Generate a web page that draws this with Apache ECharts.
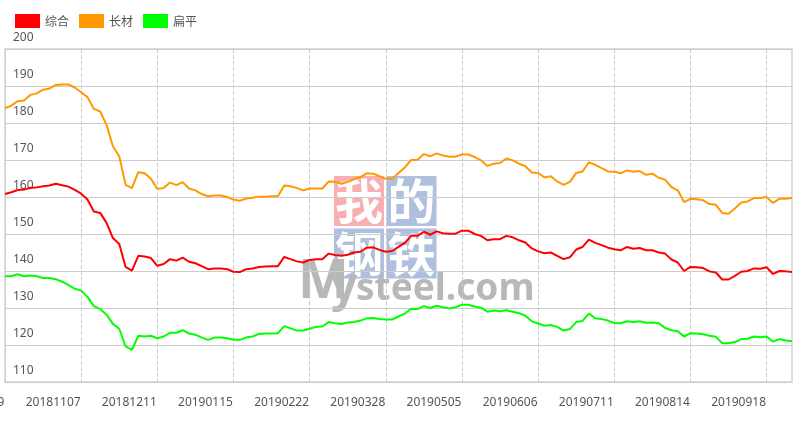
<!DOCTYPE html>
<html><head><meta charset="utf-8">
<style>html,body{margin:0;padding:0;background:#fff}#c{width:804px;height:421px}</style>
<script src="https://cdn.jsdelivr.net/npm/echarts@6/dist/echarts.min.js"></script>
</head><body><div id="c"></div>
<script>
const seriesNames = ['综合','长材','扁平'];
const tickLabels = ['20181009','20181107','20181211','20190115','20190222','20190328','20190505','20190606','20190711','20190814','20190918'];
const composite = [160.8,161.3,161.9,162,162.5,162.6,162.9,163.1,163.6,163.2,162.8,161.9,160.9,159.3,156.1,155.7,153,148.9,147.3,141.1,140.1,144.1,143.9,143.5,141.4,141.9,143.2,142.8,143.6,142.5,142.1,141.3,140.5,140.7,140.7,140.5,139.8,139.7,140.5,140.7,141.1,141.2,141.3,141.3,143.8,143.2,142.6,142.3,143,143.2,143.2,144.7,144.3,144.1,144.4,145,145.2,146.3,146.4,145.7,145.2,145.4,146.5,147.6,149.5,149.5,150.6,149.8,150.7,150.2,150.1,150.1,150.9,150.9,150,149.5,148.3,148.6,148.6,149.5,149.1,148.3,147.7,146.1,145.3,144.8,145,144.1,143.2,143.7,145.8,146.5,148.5,147.6,147,146.3,145.9,145.6,146.5,146,146.2,145.6,145.6,145,144.7,143.1,142.3,140,141.1,141,140.8,139.9,139.6,137.7,137.7,138.7,139.8,140,140.7,140.6,141,139.2,140,139.9,139.7];
const longProducts = [184,184.7,185.9,186.1,187.6,188,189,189.3,190.3,190.4,190.4,189.6,188.3,187,183.8,183.1,179.5,173.7,171,163.3,162.4,166.7,166.4,164.9,162.2,162.4,163.9,163.2,164,162.3,161.8,160.8,160.2,160.4,160.4,160,159.3,159,159.6,159.8,160.1,160.1,160.2,160.2,163.1,162.9,162.4,161.8,162.3,162.3,162.3,164.2,164.1,163.6,164.1,164.8,165.4,166.4,166.3,165.6,164.9,164.9,166.5,168,170,170.1,171.6,171,171.8,171.2,170.9,170.9,171.5,171.5,170.8,169.9,168.4,169,169.2,170.4,169.9,169,168.3,166.6,166.5,165.3,165.6,164.2,163.3,164.1,166.5,166.9,169.4,168.7,167.8,166.9,166.8,166.4,167.2,166.8,167,166,166.3,165.2,164.7,162.7,161.8,158.6,159.5,159.4,159.1,158.1,157.9,155.7,155.5,156.9,158.5,158.8,159.7,159.7,160,158.4,159.5,159.5,159.7];
const flatProducts = [138.6,138.6,139.1,138.6,138.8,138.6,138.1,138.1,137.8,137.1,136.2,135.2,134.7,133,130.5,129.7,128.2,125.7,124.4,119.6,118.7,122.5,122.3,122.5,121.8,122.3,123.3,123.3,124,123.1,122.8,122,121.4,122,122,121.8,121.4,121.4,122,122.3,123,123.1,123.1,123.2,125.1,124.5,123.9,123.9,124.4,124.9,125,126.2,125.9,125.7,126.1,126.2,126.6,127.2,127.3,127,126.9,126.9,127.7,128.5,129.8,129.7,130.5,130,130.6,130.2,129.9,130.2,130.9,130.9,130.4,130.1,129,129.3,129.1,129.4,129,128.6,127.9,126.4,125.8,125.2,125.4,124.9,123.9,124.3,126.2,126.5,128.5,127.2,127,126.6,125.9,125.9,126.4,126.2,126.4,126,126.1,125.9,124.6,124,123.7,122.3,123.2,123.1,122.9,122.5,122.2,120.5,120.5,120.8,121.6,121.7,122.3,122.1,122.3,120.9,121.6,121.2,121];
const colors = ['#ff0000','#ff9900','#00ff00'];
const labelEvery = 12;
const categories = composite.map((_, i) => i % labelEvery === 0 ? tickLabels[i / labelEvery] : ' ' + i);
const font = '"Noto Sans","Noto Sans CJK SC",sans-serif';
const cjk = '"Noto Sans CJK SC",sans-serif';
function square(x, y, fill, ch) {
  return [
    {type:'rect', z:-2, silent:true, shape:{x:x, y:y, width:50, height:50}, style:{fill:fill}},
    {type:'text', z:-1, silent:true, style:{x:x+25, y:y+25, text:ch, fill:'#fff', font:'bold 48px '+cjk, align:'center', verticalAlign:'middle'}}
  ];
}
const chart = echarts.init(document.getElementById('c'));
chart.setOption({
  animation:false,
  color:colors,
  textStyle:{fontFamily:font},
  legend:{left:10, top:9, itemWidth:25, itemHeight:14, itemGap:10, icon:'rect', data:seriesNames,
    textStyle:{fontSize:12, color:'#555', fontFamily:cjk}},
  grid:{left:5, right:12, top:49, bottom:39, show:true, borderColor:'#ddd', borderWidth:2, outerBoundsMode:'none'},
  xAxis:{type:'category', boundaryGap:false, data:categories,
    axisLine:{show:false}, axisTick:{show:false},
    axisLabel:{interval:labelEvery-1, hideOverlap:false, color:'#555', fontSize:12, margin:15, padding:[0,56,0,0],
      formatter:v => v.trim().length === 8 ? v : ''},
    splitLine:{show:true, interval:labelEvery-1, lineStyle:{color:'#ccc', type:'dashed', width:1}}},
  yAxis:{type:'value', min:110, max:200, interval:10,
    axisLine:{show:false}, axisTick:{show:false},
    axisLabel:{inside:true, margin:8, color:'#555', fontSize:12, verticalAlign:'bottom', lineHeight:14, padding:[0,0,4,0]},
    splitLine:{show:true, lineStyle:{color:'#ccc', width:1}}},
  series:[composite, longProducts, flatProducts].map((d, i) => ({
    name:seriesNames[i], type:'line', data:d, showSymbol:false, symbol:'none', smooth:false,
    lineStyle:{width:2, color:colors[i]}, itemStyle:{color:colors[i]}, z:3+i
  })),
  graphic:{elements:[
    ...square(334,176,'#f9aeb2','我'),
    ...square(386.5,176,'#aec0dd','的'),
    ...square(334,228.5,'#aec0dd','钢'),
    ...square(386.5,228.5,'#aec0dd','铁'),
    {type:'text', z:-1, silent:true, style:{x:298, y:310, text:'M', fill:'#b8b8b8', font:'bold 54px '+font, verticalAlign:'bottom'}},
    {type:'text', z:-1, silent:true, style:{x:331, y:311, text:'y', fill:'#b8b8b8', font:'bold 46px '+font, verticalAlign:'bottom'}},
    {type:'text', z:-1, silent:true, style:{x:356, y:308, text:'steel.com', fill:'#b8b8b8', font:'bold 37px '+font, verticalAlign:'bottom'}}
  ]}
});
</script></body></html>
